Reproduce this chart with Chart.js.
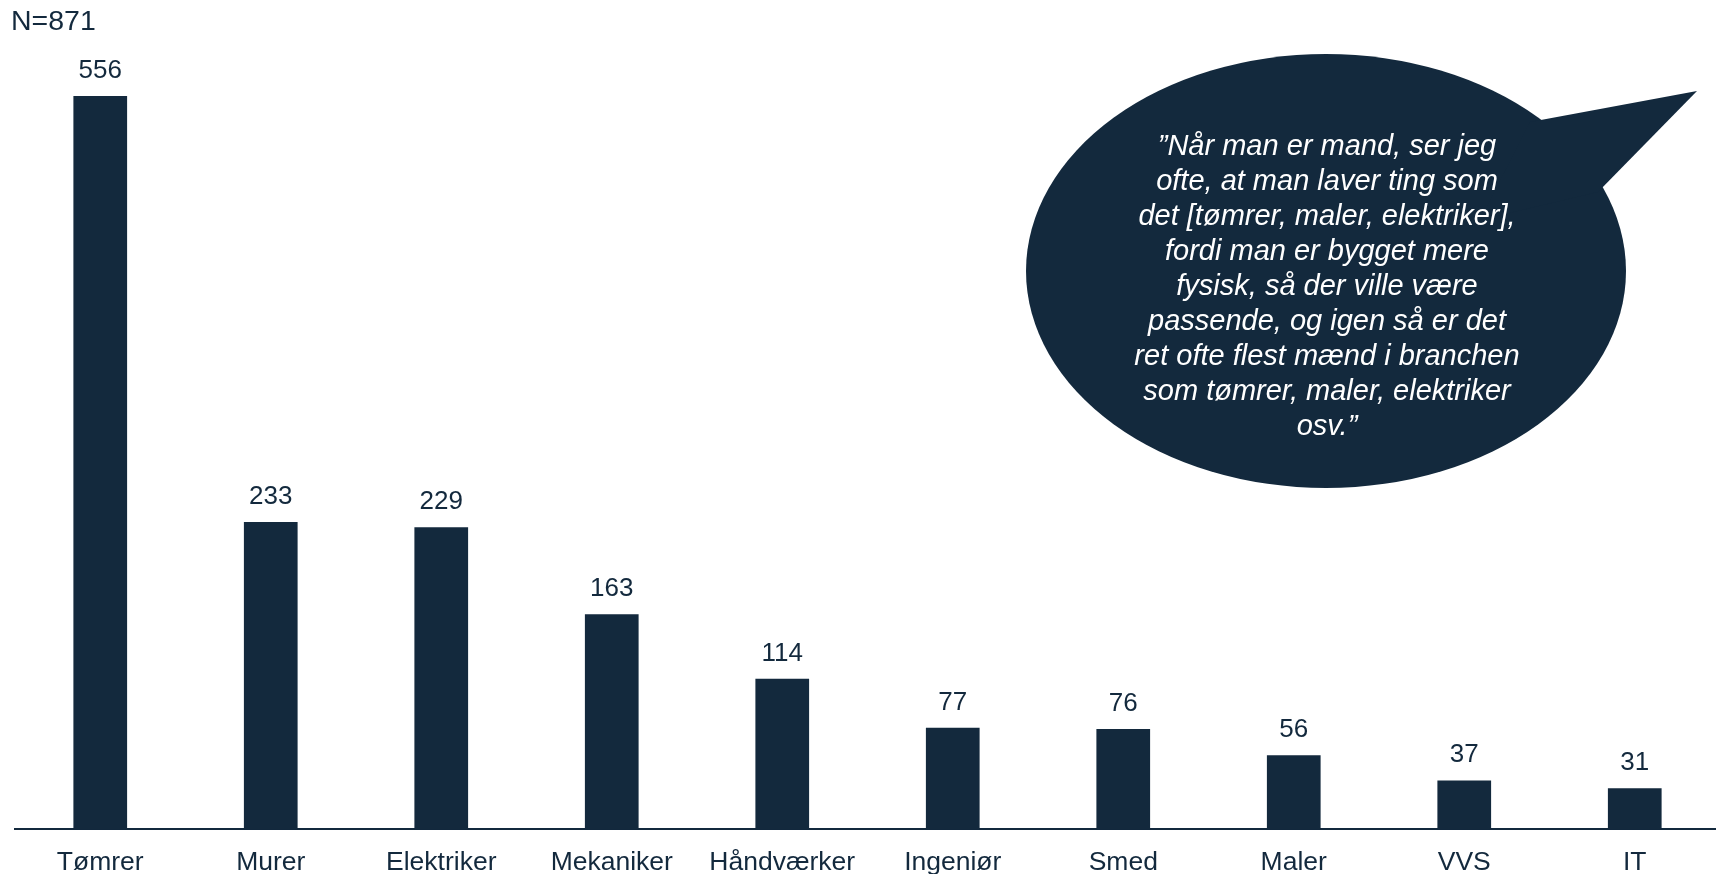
<!DOCTYPE html>
<html>
<head>
<meta charset="utf-8">
<script src="https://cdn.jsdelivr.net/npm/chart.js@4"></script>
<style>
  html, body { margin: 0; padding: 0; background: #fff; overflow: hidden; }
  #wrap { position: relative; width: 1716px; height: 874px; overflow: hidden; }
  #myChart { display: block; }
  #n { position: absolute; left: 11px; top: 4px; font: 28.5px "Liberation Sans", Arial, sans-serif; color: #13293d; line-height: 32px; }
  #quote { position: absolute; left: 1097px; top: 128px; width: 460px; text-align: center;
           font: italic 29px "Liberation Sans", Arial, sans-serif; line-height: 35px; color: #fff; }
</style>
</head>
<body>
<div id="wrap">
  <canvas id="myChart" width="1722" height="896"></canvas>
  <div id="n">N=871</div>
  <div id="quote">”Når man er mand, ser jeg<br>ofte, at man laver ting som<br>det [tømrer, maler, elektriker],<br>fordi man er bygget mere<br>fysisk, så der ville være<br>passende, og igen så er det<br>ret ofte flest mænd i branchen<br>som tømrer, maler, elektriker<br>osv.”</div>
</div>
<script>
// kategorier og antal svar
const kategorier = ['Tømrer', 'Murer', 'Elektriker', 'Mekaniker', 'Håndværker', 'Ingeniør', 'Smed', 'Maler', 'VVS', 'IT'];
const antal = [556, 233, 229, 163, 114, 77, 76, 56, 37, 31];

const navy = '#13293d';

// tal over hver søjle
const vaerdiLabels = {
    id: 'vaerdiLabels',
    afterDatasetsDraw(chart) {
        const ctx = chart.ctx;
        const meta = chart.getDatasetMeta(0);
        ctx.save();
        ctx.font = '26px "Liberation Sans", Arial, sans-serif';
        ctx.fillStyle = navy;
        ctx.textAlign = 'center';
        ctx.textBaseline = 'alphabetic';
        meta.data.forEach(function(bar, i) {
            ctx.fillText(antal[i], bar.x, bar.y - 18);
        });
        ctx.restore();
    }
};

// taleboble bag citatet
const taleboble = {
    id: 'taleboble',
    beforeDraw(chart) {
        const ctx = chart.ctx;
        ctx.save();
        ctx.fillStyle = navy;
        ctx.beginPath();
        ctx.ellipse(1326, 271, 300, 217, 0, 0, Math.PI * 2);
        ctx.fill();
        ctx.beginPath();
        ctx.moveTo(1530, 122);
        ctx.lineTo(1697, 91);
        ctx.lineTo(1598, 192);
        ctx.lineTo(1480, 220);
        ctx.closePath();
        ctx.fill();
        ctx.restore();
    }
};

const ctx = document.getElementById('myChart').getContext('2d');
const myChart = new Chart(ctx, {
    type: 'bar',
    data: {
        labels: kategorier,
        datasets: [{
            data: antal,
            backgroundColor: navy,
            barPercentage: 0.315,
            categoryPercentage: 1
        }]
    },
    options: {
        responsive: false,
        animation: false,
        layout: { padding: { top: 38, left: 15, right: 2, bottom: 0 } },
        plugins: {
            legend: { display: false },
            tooltip: { enabled: false }
        },
        scales: {
            x: {
                grid: { display: false, drawTicks: false },
                border: { display: true, color: navy, width: 2 },
                ticks: {
                    color: navy,
                    padding: 17.5,
                    maxRotation: 0,
                    font: { family: '"Liberation Sans", Arial, sans-serif', size: 26.5 }
                }
            },
            y: {
                display: false,
                min: 0,
                max: 600
            }
        }
    },
    plugins: [taleboble, vaerdiLabels]
});
</script>
</body>
</html>
